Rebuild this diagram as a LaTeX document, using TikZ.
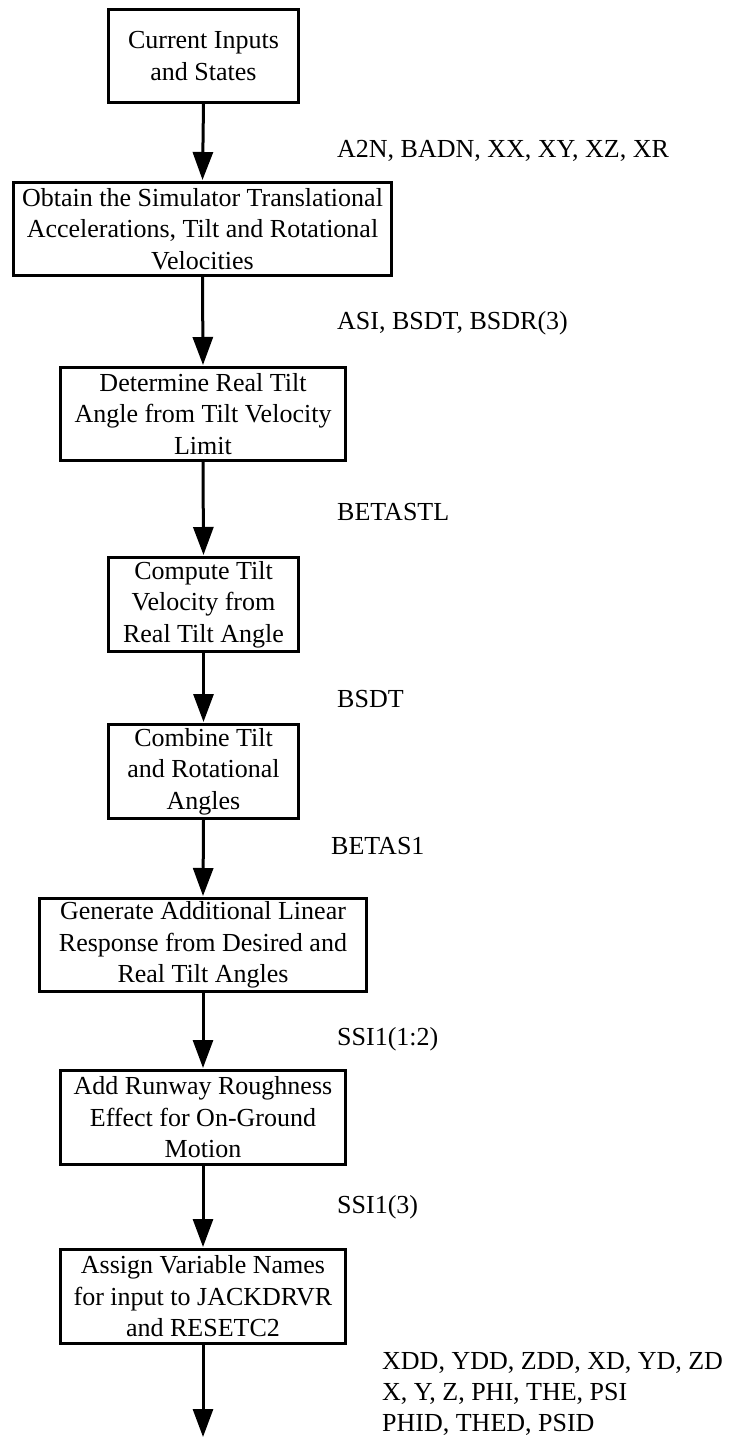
\documentclass[tikz,border=0pt]{standalone}
\usepackage{fontspec}
\setmainfont{Liberation Serif}
\usetikzlibrary{arrows.meta}
\tikzset{
  stepbox/.style={draw, line width=3pt, inner sep=0pt, align=center,
    font=\fontsize{26}{31.5}\selectfont},
  flow/.style={line width=3pt, -{Triangle[width=20pt,length=28pt]}, shorten >=1pt},
  varlabel/.style={anchor=base west, inner sep=0pt, align=left,
    font=\fontsize{26}{31.5}\selectfont}
}
\begin{document}
\begin{tikzpicture}[x=1pt,y=-1pt]
\useasboundingbox (0,0) rectangle (735,1437);

% processing steps
\node[stepbox, minimum width=190pt, minimum height=93pt] (inputs) at (203.5,56)
  {Current Inputs\\and States};
\node[stepbox, minimum width=378pt, minimum height=93pt] (obtain) at (202.5,229)
  {Obtain the Simulator Translational\\Accelerations, Tilt and Rotational\\Velocities};
\node[stepbox, minimum width=285pt, minimum height=93pt] (realtilt) at (203,414)
  {Determine Real Tilt\\Angle from Tilt Velocity\\Limit};
\node[stepbox, minimum width=190pt, minimum height=94pt] (tiltvel) at (203.5,604.5)
  {Compute Tilt\\Velocity from\\Real Tilt Angle};
\node[stepbox, minimum width=190pt, minimum height=94pt] (combine) at (203.5,771.5)
  {Combine Tilt\\and Rotational\\Angles};
\node[stepbox, minimum width=327pt, minimum height=93pt] (linear) at (203,945)
  {Generate Additional Linear\\Response from Desired and\\Real Tilt Angles};
\node[stepbox, minimum width=285pt, minimum height=94pt] (runway) at (203,1117.5)
  {Add Runway Roughness\\Effect for On-Ground\\Motion};
\node[stepbox, minimum width=285pt, minimum height=94pt] (assign) at (203,1296.5)
  {Assign Variable Names\\for input to JACKDRVR\\and RESETC2};
\coordinate (out) at (203,1437);

% connectors
\draw[flow] (inputs.south) -- (obtain.north);
\draw[flow] (obtain.south) -- (realtilt.north);
\draw[flow] (realtilt.south) -- (tiltvel.north);
\draw[flow] (tiltvel.south) -- (combine.north);
\draw[flow] (combine.south) -- (linear.north);
\draw[flow] (linear.south) -- (runway.north);
\draw[flow] (runway.south) -- (assign.north);
\draw[flow, shorten >=0pt] (assign.south) -- (out);

% variables passed between steps
\node[varlabel] (v1) at (337,157) {A2N, BADN, XX, XY, XZ, XR};
\node[varlabel] (v2) at (337,329) {ASI, BSDT, BSDR(3)};
\node[varlabel] (v3) at (337,520) {BETASTL};
\node[varlabel] (v4) at (337,707) {BSDT};
\node[varlabel] (v5) at (331,854) {BETAS1};
\node[varlabel] (v6) at (337,1045) {SSI1(1:2)};
\node[varlabel] (v7) at (337,1213) {SSI1(3)};
\node[varlabel, anchor=north west, font=\fontsize{26}{31}\selectfont] (v8) at (382,1352)
  {XDD, YDD, ZDD, XD, YD, ZD\\X, Y, Z, PHI, THE, PSI\\PHID, THED, PSID};
\end{tikzpicture}
\end{document}
